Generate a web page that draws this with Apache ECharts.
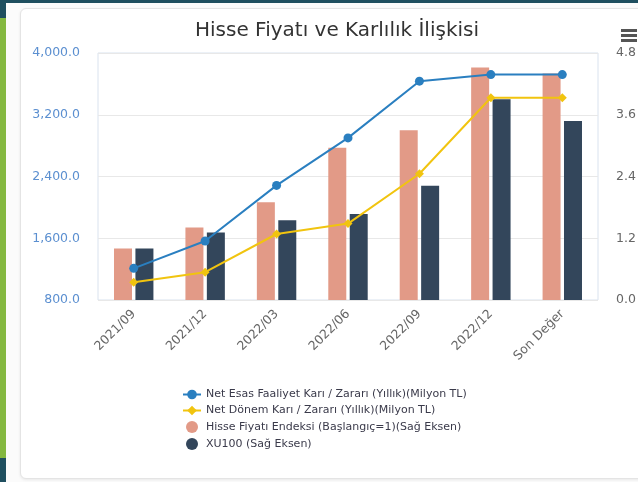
<!DOCTYPE html>
<html>
<head>
<meta charset="utf-8">
<script src="https://cdn.jsdelivr.net/npm/echarts@6/dist/echarts.min.js"></script>
<style>
  html, body { margin: 0; padding: 0; width: 638px; height: 482px; overflow: hidden; background: #fbfbfb; }
  .top-band { position: absolute; left: 0; top: 0; width: 638px; height: 3px; background: #1f4f5f; }
  .side { position: absolute; left: 0; top: 0; width: 6px; height: 482px; background: #84b840; }
  .side-top { position: absolute; left: 0; top: 0; width: 6px; height: 18px; background: #1f4f5f; }
  .side-bot { position: absolute; left: 0; top: 458px; width: 6px; height: 24px; background: #1f4f5f; }
  .card { position: absolute; left: 20px; top: 8px; width: 640px; height: 469px; background: #fff;
          border: 1px solid #e4e4e4; border-radius: 6px; box-shadow: 0 1px 3px rgba(0,0,0,0.08); }
  #chart { position: absolute; left: 20px; top: 8px; width: 634px; height: 470px; }
</style>
</head>
<body>
<div class="top-band"></div>
<div class="side"></div>
<div class="side-top"></div>
<div class="side-bot"></div>
<div class="card"></div>
<div id="chart"></div>
<script>
// kategoriler ve seriler
var categories = ['2021/09', '2021/12', '2022/03', '2022/06', '2022/09', '2022/12', 'Son Değer']
var netEsasKar = [1210, 1565, 2285, 2900, 3635, 3720, 3720]
var netDonemKar = [1030, 1160, 1655, 1790, 2435, 3420, 3420]
var hisseEndeks = [1.0, 1.41, 1.90, 2.96, 3.30, 4.52, 4.40]
var xu100 = [1.0, 1.31, 1.55, 1.67, 2.22, 3.90, 3.48]

var names = [
  'Net Esas Faaliyet Karı / Zararı (Yıllık)(Milyon TL)',
  'Net Dönem Karı / Zararı (Yıllık)(Milyon TL)',
  'Hisse Fiyatı Endeksi (Başlangıç=1)(Sağ Eksen)',
  'XU100 (Sağ Eksen)'
]

var chart = echarts.init(document.getElementById('chart'))
var fontFamily = 'DejaVu Sans'

chart.setOption({
  animation: false,
  textStyle: { fontFamily: fontFamily },
  title: {
    text: 'Hisse Fiyatı ve Karlılık İlişkisi',
    left: 'center',
    top: 8,
    textStyle: { fontSize: 20, fontWeight: 'normal', color: '#333', fontFamily: fontFamily }
  },
  graphic: [
    { type: 'rect', left: 601, top: 21, shape: { width: 16, height: 3 }, style: { fill: '#555' } },
    { type: 'rect', left: 601, top: 26, shape: { width: 16, height: 3 }, style: { fill: '#555' } },
    { type: 'rect', left: 601, top: 31, shape: { width: 16, height: 3 }, style: { fill: '#555' } }
  ],
  legend: {
    orient: 'vertical',
    left: 157,
    top: 376,
    itemWidth: 18,
    itemHeight: 12,
    itemGap: 5,
    textStyle: { fontSize: 11, color: '#3a3a4a', fontFamily: fontFamily },
    data: [
      { name: names[0] },
      { name: names[1] },
      { name: names[2], icon: 'circle' },
      { name: names[3], icon: 'circle' }
    ]
  },
  grid: {
    left: 78,
    right: 56,
    top: 45,
    bottom: 178,
    show: true,
    borderColor: '#d9e2ee',
    borderWidth: 1
  },
  xAxis: {
    type: 'category',
    data: categories,
    axisLine: { show: false },
    axisTick: { show: false },
    axisLabel: { rotate: 45, fontSize: 12.5, color: '#666', margin: 12, fontFamily: fontFamily }
  },
  yAxis: [
    {
      type: 'value',
      min: 800,
      max: 4000,
      interval: 800,
      axisLine: { show: false },
      axisTick: { show: false },
      splitLine: { lineStyle: { color: '#e8e8e8' } },
      axisLabel: {
        margin: 18,
        fontSize: 12.5,
        color: '#5b8fd0',
        fontFamily: fontFamily,
        formatter: function (v) {
          return v.toLocaleString('en-US', { minimumFractionDigits: 1, maximumFractionDigits: 1 })
        }
      }
    },
    {
      type: 'value',
      min: 0,
      max: 4.8,
      interval: 1.2,
      axisLine: { show: false },
      axisTick: { show: false },
      splitLine: { show: false },
      axisLabel: {
        margin: 18,
        fontSize: 12.5,
        color: '#666',
        fontFamily: fontFamily,
        formatter: function (v) { return v.toFixed(1) }
      }
    }
  ],
  series: [
    {
      name: names[0],
      type: 'line',
      data: netEsasKar,
      yAxisIndex: 0,
      z: 5,
      symbol: 'circle',
      symbolSize: 9,
      color: '#2a7fc0',
      lineStyle: { width: 2 }
    },
    {
      name: names[1],
      type: 'line',
      data: netDonemKar,
      yAxisIndex: 0,
      z: 5,
      symbol: 'diamond',
      symbolSize: 9,
      color: '#f1c40f',
      lineStyle: { width: 2 }
    },
    {
      name: names[2],
      type: 'bar',
      data: hisseEndeks,
      yAxisIndex: 1,
      barWidth: 18,
      barGap: '19%',
      color: '#e29a87'
    },
    {
      name: names[3],
      type: 'bar',
      data: xu100,
      yAxisIndex: 1,
      barWidth: 18,
      color: '#33465b'
    }
  ]
})
</script>
</body>
</html>
